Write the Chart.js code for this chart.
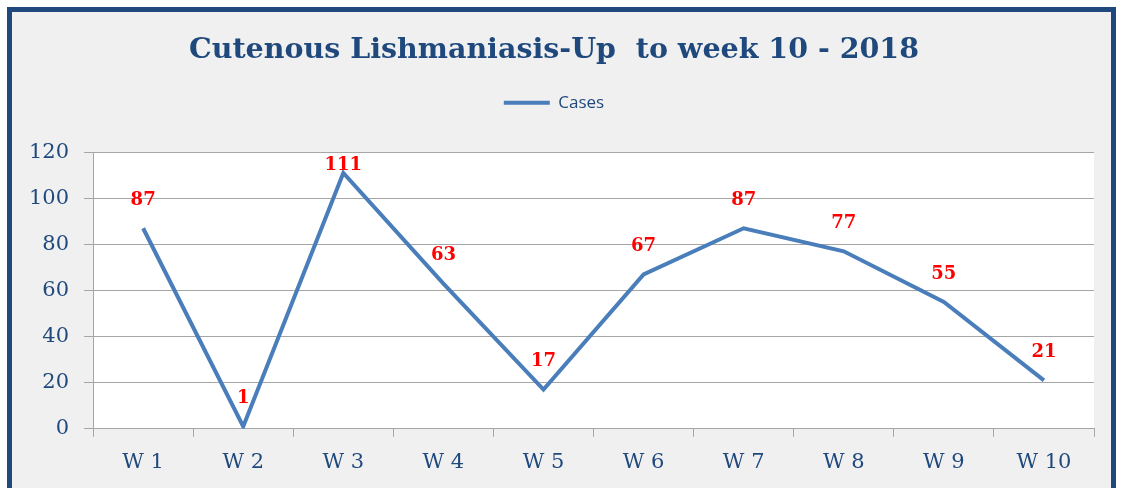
<!DOCTYPE html>
<html>
<head>
<meta charset="utf-8">
<script src="https://cdn.jsdelivr.net/npm/chart.js@4.4.1/dist/chart.umd.min.js"></script>
<style>
  html, body { margin: 0; padding: 0; background: #fff; }
  body { width: 1121px; height: 488px; position: relative; overflow: hidden; }
  #frame {
    position: absolute; left: 7px; top: 7px; width: 1099px; height: 500px;
    border: 5px solid #1F497D; background: #F0F0F0;
  }
  #wrap { position: absolute; left: 0; top: 0; width: 1121px; height: 488px; }
</style>
</head>
<body>
<div id="frame"></div>
<div id="wrap"><canvas id="chart"></canvas></div>
<script>
var weeks = ['W 1', 'W 2', 'W 3', 'W 4', 'W 5', 'W 6', 'W 7', 'W 8', 'W 9', 'W 10'];
var cases = [87, 1, 111, 63, 17, 67, 87, 77, 55, 21];
var yTicks = [0, 20, 40, 60, 80, 100, 120];

var navy = '#1F497D';
var gridGrey = '#A6A6A6';

// white plot area behind the line
var plotBg = {
  id: 'plotBg',
  beforeDraw: function(chart) {
    var a = chart.chartArea, ctx = chart.ctx;
    ctx.save();
    ctx.fillStyle = '#ffffff';
    ctx.fillRect(a.left, a.top, a.right - a.left, a.bottom - a.top);
    ctx.restore();
  }
};

// red value labels above each point
var valueLabels = {
  id: 'valueLabels',
  afterDatasetsDraw: function(chart) {
    var ctx = chart.ctx, a = chart.chartArea;
    var meta = chart.getDatasetMeta(0);
    ctx.save();
    ctx.font = 'bold 18px "DejaVu Serif"';
    ctx.fillStyle = '#FF0000';
    ctx.textAlign = 'center';
    ctx.textBaseline = 'middle';
    meta.data.forEach(function(pt, i) {
      var y = Math.max(pt.y - 28, a.top + 13);
      ctx.fillText(String(cases[i]), pt.x, y);
    });
    ctx.restore();
  }
};

// extra room under the legend
var legendGap = {
  id: 'legendGap',
  beforeInit: function(chart) {
    var fit = chart.legend.fit;
    chart.legend.fit = function() {
      fit.bind(chart.legend)();
      this.height += 31;
    };
  }
};

new Chart(document.getElementById('chart'), {
  type: 'line',
  data: {
    labels: weeks,
    datasets: [{
      label: 'Cases',
      data: cases,
      borderColor: '#4A7EBB',
      backgroundColor: '#4A7EBB',
      borderWidth: 4,
      pointRadius: 0,
      tension: 0,
      fill: false
    }]
  },
  options: {
    responsive: true,
    maintainAspectRatio: false,
    animation: false,
    layout: { padding: { left: 14, right: 27, top: 0, bottom: 0 } },
    plugins: {
      title: {
        display: true,
        text: 'Cutenous Lishmaniasis-Up  to week 10 - 2018',
        color: navy,
        font: { family: '"DejaVu Serif"', size: 28.5, weight: 'bold' },
        padding: { top: 33, bottom: 17 }
      },
      legend: {
        display: true,
        labels: {
          usePointStyle: true,
          pointStyle: 'line',
          pointStyleWidth: 46,
          color: navy,
          font: { family: '"Open Sans"', size: 17 }
        }
      },
      tooltip: { enabled: false }
    },
    scales: {
      x: {
        offset: true,
        grid: { display: true, drawOnChartArea: false, offset: true, tickLength: 8, color: gridGrey },
        border: { display: true, color: gridGrey },
        ticks: { color: navy, padding: 13, font: { family: '"DejaVu Serif"', size: 21 } }
      },
      y: {
        min: 0,
        max: 120,
        afterBuildTicks: function(axis) {
          axis.ticks = yTicks.map(function(v) { return { value: v }; });
        },
        grid: { color: gridGrey, tickLength: 9 },
        border: { display: true, color: gridGrey },
        ticks: { color: navy, padding: 15, font: { family: '"DejaVu Serif"', size: 21 } }
      }
    }
  },
  plugins: [plotBg, valueLabels, legendGap]
});
</script>
</body>
</html>
